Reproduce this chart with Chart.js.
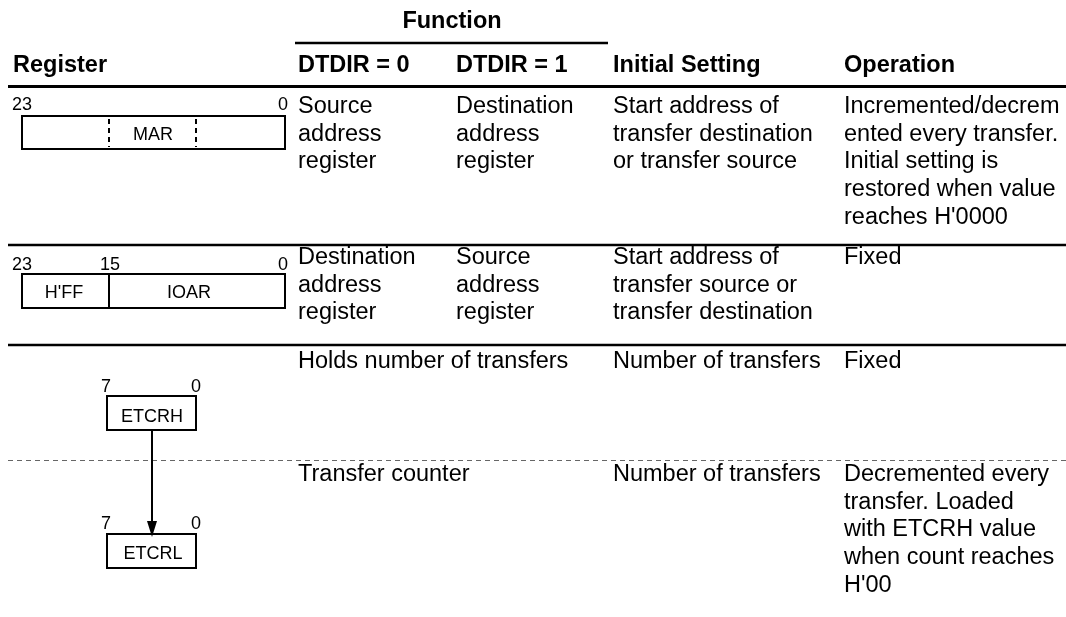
<!DOCTYPE html>
<html><head><meta charset="utf-8">
<script src="https://cdn.jsdelivr.net/npm/chart.js@4/dist/chart.umd.min.js"></script>
<style>html,body{margin:0;padding:0;background:#fff}#wrap{width:1066px;height:617px}</style>
</head><body><div id="wrap"><canvas id="c" width="1066" height="617"></canvas></div>
<script>
// ---- table content ----
const groupHeader = "Function";
const columnHeaders = ["Register", "DTDIR = 0", "DTDIR = 1", "Initial Setting", "Operation"];
const dtdir0Text = [
  ["Source", "address", "register"],
  ["Destination", "address", "register"],
  ["Holds number of transfers"],
  ["Transfer counter"]
];
const dtdir1Text = [
  ["Destination", "address", "register"],
  ["Source", "address", "register"],
  [],
  []
];
const initialSettingText = [
  ["Start address of", "transfer destination", "or transfer source"],
  ["Start address of", "transfer source or", "transfer destination"],
  ["Number of transfers"],
  ["Number of transfers"]
];
const operationText = [
  ["Incremented/decrem", "ented every transfer.", "Initial setting is", "restored when value", "reaches H'0000"],
  ["Fixed"],
  ["Fixed"],
  ["Decremented every", "transfer. Loaded", "with ETCRH value", "when count reaches", "H'00"]
];
const registerNames = ["MAR", "IOAR", "ETCRH", "ETCRL"];
const registerBitLabels = [["23", "0"], ["23", "15", "0"], ["7", "0"], ["7", "0"]];
const ioarUpperField = "H'FF";

// ---- layout (drawing only) ----
const colX = [13, 298, 456, 613, 844];
const rowBaseline = [113, 264, 368, 481];
const lineStep = 27.7;
const BODY = '23.5px "Liberation Sans", Arial, sans-serif';
const BOLD = 'bold 23.5px "Liberation Sans", Arial, sans-serif';
const SMALL = '18px "Liberation Sans", Arial, sans-serif';

const tablePlugin = {
  id: 'tablePlugin',
  afterDraw(chart) {
    const ctx = chart.ctx, sx = chart.scales.x, sy = chart.scales.y;
    const X = v => sx.getPixelForValue(v), Y = v => sy.getPixelForValue(v);
    ctx.save();
    ctx.fillStyle = '#fff';
    ctx.fillRect(0, 0, chart.width, chart.height);
    ctx.textBaseline = 'alphabetic';

    function line(x1, y1, x2, y2, w, dash, color) {
      ctx.beginPath();
      ctx.setLineDash(dash || []);
      ctx.lineWidth = w;
      ctx.strokeStyle = color || '#000';
      ctx.moveTo(X(x1), Y(y1));
      ctx.lineTo(X(x2), Y(y2));
      ctx.stroke();
      ctx.setLineDash([]);
    }
    function text(t, x, y, font, align) {
      ctx.font = font;
      ctx.textAlign = align || 'left';
      ctx.fillStyle = '#000';
      ctx.fillText(t, X(x), Y(y));
    }
    function rect(x1, y1, x2, y2, w) {
      ctx.lineWidth = w;
      ctx.strokeStyle = '#000';
      ctx.strokeRect(X(x1), Y(y1), X(x2) - X(x1), Y(y2) - Y(y1));
    }

    // headers
    text(groupHeader, 452, 28, BOLD, 'center');
    line(295, 43, 608, 43, 2.5);
    columnHeaders.forEach((h, i) => text(h, colX[i], 72, BOLD));
    line(8, 86.5, 1066, 86.5, 3);

    // rule lines
    line(8, 245, 1066, 245, 2.5);
    line(8, 345, 1066, 345, 2.5);
    line(8, 460.5, 1066, 460.5, 1, [5, 4], '#666');

    // cell texts
    const cols = [dtdir0Text, dtdir1Text, initialSettingText, operationText];
    cols.forEach((col, ci) => {
      col.forEach((cell, ri) => {
        cell.forEach((ln, li) => text(ln, colX[ci + 1], rowBaseline[ri] + li * lineStep, BODY));
      });
    });

    // MAR
    text(registerBitLabels[0][0], 12, 110, SMALL);
    text(registerBitLabels[0][1], 288, 110, SMALL, 'right');
    rect(22, 116, 285, 149, 2);
    line(109, 119, 109, 147, 2, [5, 4]);
    line(196, 119, 196, 147, 2, [5, 4]);
    text(registerNames[0], 153, 140, SMALL, 'center');

    // IOAR
    text(registerBitLabels[1][0], 12, 270, SMALL);
    text(registerBitLabels[1][1], 110, 270, SMALL, 'center');
    text(registerBitLabels[1][2], 288, 270, SMALL, 'right');
    rect(22, 274, 285, 308, 2);
    line(109, 274, 109, 308, 2);
    text(ioarUpperField, 64, 298, SMALL, 'center');
    text(registerNames[1], 189, 298, SMALL, 'center');

    // ETCRH
    text(registerBitLabels[2][0], 106, 392, SMALL, 'center');
    text(registerBitLabels[2][1], 196, 392, SMALL, 'center');
    rect(107, 396, 196, 430, 2);
    text(registerNames[2], 152, 422, SMALL, 'center');

    // ETCRL
    text(registerBitLabels[3][0], 106, 529, SMALL, 'center');
    text(registerBitLabels[3][1], 196, 529, SMALL, 'center');
    rect(107, 534, 196, 568, 2);
    text(registerNames[3], 153, 559, SMALL, 'center');

    // arrow
    line(152, 431, 152, 524, 2);
    ctx.beginPath();
    ctx.moveTo(X(152), Y(537));
    ctx.lineTo(X(147), Y(521));
    ctx.lineTo(X(157), Y(521));
    ctx.closePath();
    ctx.fillStyle = '#000';
    ctx.fill();

    ctx.restore();
  }
};

new Chart(document.getElementById('c'), {
  type: 'scatter',
  data: { datasets: [{ data: [], pointRadius: 0 }] },
  options: {
    responsive: false,
    animation: false,
    layout: { padding: 0 },
    plugins: { legend: { display: false }, tooltip: { enabled: false }, title: { display: false } },
    scales: {
      x: { type: 'linear', min: 0, max: 1066, display: false },
      y: { type: 'linear', min: 0, max: 617, reverse: true, display: false }
    }
  },
  plugins: [tablePlugin]
});
</script>
</body></html>
